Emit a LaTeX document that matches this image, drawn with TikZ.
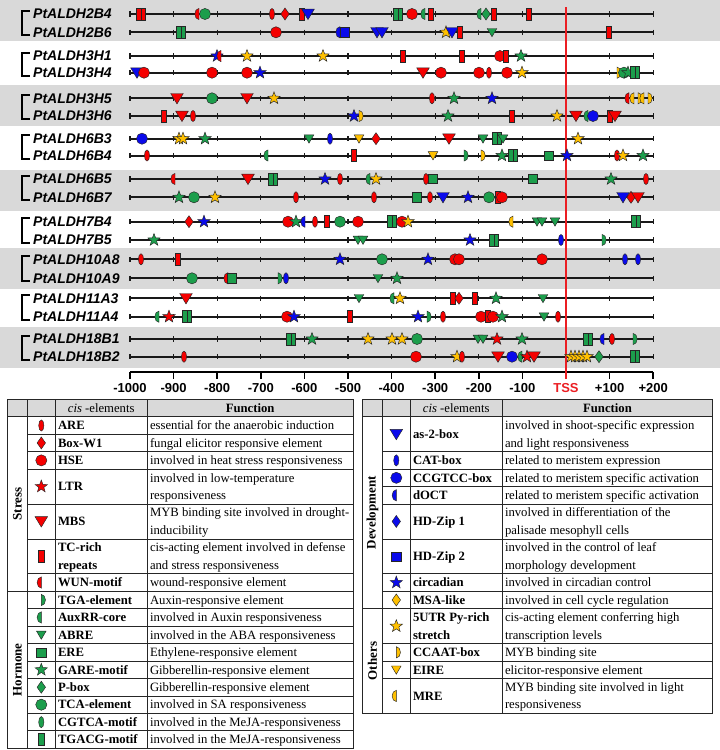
\documentclass[tikz,border=0pt]{standalone}
\usepackage{fontspec}
\setmainfont{Liberation Serif}
\setsansfont{Liberation Sans}
\definecolor{cR}{RGB}{245,0,0}
\definecolor{cG}{RGB}{28,158,76}
\definecolor{cB}{RGB}{10,10,235}
\definecolor{cY}{RGB}{255,192,0}
\definecolor{band}{RGB}{217,217,217}
\definecolor{tssred}{RGB}{235,30,35}
\newcommand\ry[1]{399.3+(#1)*17.45}
\newcommand\tic[3]{\pic at (#1,{\ry{#2}}) {#3};}
\newcommand\ttx[5]{\node[#1] (#2) at (#3,{\ry{#4}}) {#5};}
\tikzset{
 mk/.style={draw=black!85,line width=0.45pt},
 pics/ell/.style={code={\filldraw[mk,fill=#1] (0,0) ellipse[x radius=2.6pt,y radius=5.6pt];}},
 pics/dia/.style={code={\filldraw[mk,fill=#1] (0,-6) -- (4.2,0) -- (0,6) -- (-4.2,0) -- cycle;}},
 pics/cir/.style={code={\filldraw[mk,fill=#1] (0,0) circle[radius=5.6pt];}},
 pics/str/.style={code={\filldraw[mk,fill=#1] (90:6.5pt) -- (126:2.7pt) -- (162:6.5pt) -- (198:2.7pt) -- (234:6.5pt) -- (270:2.7pt) -- (306:6.5pt) -- (342:2.7pt) -- (18:6.5pt) -- (54:2.7pt) -- cycle;}},
 pics/tri/.style={code={\filldraw[mk,fill=#1] (-6.3,-4.8) -- (6.3,-4.8) -- (0,5.6) -- cycle;}},
 pics/stri/.style={code={\filldraw[mk,fill=#1] (-4.8,-3.8) -- (4.8,-3.8) -- (0,4.4) -- cycle;}},
 pics/rct/.style={code={\filldraw[mk,fill=#1] (-2.6,-6) rectangle (2.6,6);}},
 pics/sqr/.style={code={\filldraw[mk,fill=#1] (-4.6,-4.6) rectangle (4.6,4.6);}},
 pics/hl/.style={code={\filldraw[mk,fill=#1] (0,-5.6) arc[start angle=90,end angle=270,x radius=4.2pt,y radius=5.6pt] -- cycle;}},
 pics/hr/.style={code={\filldraw[mk,fill=#1] (0,5.6) arc[start angle=-90,end angle=90,x radius=4.2pt,y radius=5.6pt] -- cycle;}},
 pics/dbl/.style={code={\filldraw[mk,fill=#1] (-4.6,-6) rectangle (0,6); \filldraw[mk,fill=#1] (0,-6) rectangle (4.6,6);}},
 pics/are/.style={ell=cR}, pics/bw/.style={dia=cR}, pics/hse/.style={cir=cR},
 pics/ltr/.style={str=cR}, pics/mbs/.style={tri=cR}, pics/tc/.style={rct=cR},
 pics/wun/.style={hl=cR}, pics/tcd/.style={dbl=cR},
 pics/tga/.style={hr=cG}, pics/aux/.style={hl=cG}, pics/abre/.style={stri=cG},
 pics/ere/.style={sqr=cG}, pics/gare/.style={str=cG}, pics/pbox/.style={dia=cG},
 pics/tca/.style={cir=cG}, pics/cgt/.style={ell=cG}, pics/tgacg/.style={dbl=cG},
 pics/tgs/.style={rct=cG},
 pics/as2/.style={tri=cB}, pics/cat/.style={ell=cB}, pics/ccg/.style={cir=cB},
 pics/doct/.style={hl=cB}, pics/hd1/.style={dia=cB}, pics/hd2/.style={sqr=cB},
 pics/bst/.style={str=cB},
 pics/msa/.style={dia=cY}, pics/utr/.style={str=cY}, pics/ccaat/.style={hr=cY},
 pics/eire/.style={stri=cY}, pics/mre/.style={hl=cY},
 gline/.style={line width=2pt,black!90},
 gtick/.style={line width=1.3pt,black!90},
 brk/.style={line width=2pt,black},
 glab/.style={anchor=west,inner sep=0,font=\sffamily\bfseries\itshape\fontsize{14}{14}\selectfont},
 axl/.style={line width=2pt},
 axlab/.style={inner sep=0,font=\sffamily\bfseries\fontsize{13}{13}\selectfont},
 tss/.style={line width=2pt,tssred},
 tline/.style={line width=0.8pt,black!85},
 elt/.style={anchor=west,inner sep=0,text height=8.5pt,text depth=0pt,font=\bfseries\fontsize{12.7}{14}\selectfont},
 fnt/.style={anchor=west,inner sep=0,text height=8.5pt,text depth=0pt,font=\fontsize{12.7}{14}\selectfont},
 hdtx/.style={inner sep=0,text height=8.5pt,text depth=0pt,font=\fontsize{12.7}{14}\selectfont},
 catlab/.style={rotate=90,inner sep=0,font=\bfseries\fontsize{13}{13}\selectfont},
}
\begin{document}
\begin{tikzpicture}[x=1pt,y=-1pt]
\useasboundingbox (0,0) rectangle (720,750);
% grey bands
\foreach \a/\b in {0/41,85/126,170/210.7,248.3/289,326.7/368.3}
  \fill[band] (0,\a) rectangle (720,\b);
% gene lines and labels
\foreach \yy/\nn in {14/2B4,32.3/2B6,56/3H1,72.7/3H4,98.3/3H5,116/3H6,138.7/6B3,155.5/6B4,179/6B5,197.3/6B7,221.7/7B4,240/7B5,259.3/10A8,278.3/10A9,298.3/11A3,316.7/11A4,339/18B1,356.7/18B2}{
  \draw[gline] (130,\yy) -- (653,\yy);
  \foreach \k in {0,...,12}{\draw[gtick] ({130+43.6*\k},{\yy-2.6}) -- ({130+43.6*\k},{\yy+2.6});}
  \node[glab] (g\nn) at (33,\yy) {PtALDH\nn};
}
% brackets
\foreach \a/\b in {14/32.3,56/72.7,98.3/116,138.7/155.5,179/197.3,221.7/240,259.3/278.3,298.3/316.7,339/356.7}
  \draw[brk] (29.5,{\a-3.5}) -- (21.5,{\a-3.5}) -- (21.5,{\b+3}) -- (29.5,{\b+3});
% axis
\draw[axl] (130,372) -- (653,372);
\foreach \k in {0,...,12}{\draw[line width=1.5pt] ({130+43.6*\k},372) -- ({130+43.6*\k},378.5);}
\foreach \k/\lb in {0/-1000,1/-900,2/-800,3/-700,4/-600,5/-500,6/-400,7/-300,8/-200,9/-100,11/+100,12/+200}
  \node[axlab] (ax\k) at ({130+43.6*\k},387.7) {\lb};
\node[axlab,text=tssred] (axtss) at (566,387.7) {TSS};
% TSS line
\draw[tss] (566,7) -- (566,379);
% elements
\foreach \ty/\x in {tcd/141,wun/199,tca/205,are/272,bw/285,tc/302,as2/308,tgacg/398,hse/412,aux/425,tc/431,aux/481,pbox/486,tc/494,tc/529}{\pic at (\x,14) {\ty};}
\foreach \ty/\x in {tgacg/181,hse/276,doct/340,hd2/345,as2/377,as2/382,utr/446,as2/452,tc/460,abre/492,tc/609}{\pic at (\x,32.3) {\ty};}
\foreach \ty/\x in {bst/217,wun/221,utr/247,utr/323,tc/403,tc/462,hse/500,tc/506,gare/521}{\pic at (\x,56) {\ty};}
\foreach \ty/\x in {as2/137,hse/144,hse/212,hse/247,bst/260,mbs/423,hse/441,hse/479,are/489,hse/507,utr/522,ccaat/617,tca/624,gare/628,tgacg/635}{\pic at (\x,72.7) {\ty};}
\foreach \ty/\x in {mbs/177,tca/212,mbs/247,utr/274,are/432,gare/454,bst/492,wun/629,mre/634,ccaat/638,mre/644,ccaat/648}{\pic at (\x,98.3) {\ty};}
\foreach \ty/\x in {tc/164,mbs/182,are/193,bst/354,ccaat/359,gare/448,tc/512,utr/557,mbs/576,aux/588,ccg/593,tc/610,mbs/615}{\pic at (\x,116) {\ty};}
\foreach \ty/\x in {ccg/142,utr/179,utr/183,gare/205,abre/309,cat/330,eire/359,bw/376,mbs/449,abre/483,tgacg/497,abre/503,utr/578}{\pic at (\x,138.7) {\ty};}
\foreach \ty/\x in {are/147,aux/268,tc/354,eire/433,tga/464,ccaat/481,gare/502,tgacg/513,ere/549,bst/567,are/617,utr/623,gare/643}{\pic at (\x,155.5) {\ty};}
\foreach \ty/\x in {wun/175,mbs/248,tgacg/273,bst/325,are/340,aux/370,utr/376,are/426,ere/433,ere/533,gare/611,are/646}{\pic at (\x,179) {\ty};}
\foreach \ty/\x in {gare/179,tca/194,utr/215,are/296,are/374,ere/417,are/430,as2/443,bst/468,tca/489,tc/498,hse/502,as2/623,bw/631,mbs/638}{\pic at (\x,197.3) {\ty};}
\foreach \ty/\x in {bw/189,bst/204,hse/288,gare/296,doct/305,are/315,tc/327,tca/340,hse/358,tgacg/392,hse/402,utr/408,mre/513,abre/537,abre/542,abre/555,tgacg/636}{\pic at (\x,221.7) {\ty};}
\foreach \ty/\x in {gare/154,abre/358,abre/363,bst/470,tgacg/494,cat/561,tga/602}{\pic at (\x,240) {\ty};}
\foreach \ty/\x in {are/141,tc/178,bst/340,tca/382,bst/428,hse/455,hse/459,hse/542,cat/625,cat/638}{\pic at (\x,259.3) {\ty};}
\foreach \ty/\x in {tca/192,wun/228,ere/232,tga/278,cat/286,abre/378,gare/397}{\pic at (\x,278.3) {\ty};}
\foreach \ty/\x in {mbs/186,abre/359,aux/394,utr/400,tc/453,bw/459,tc/475,gare/496,abre/543}{\pic at (\x,298.3) {\ty};}
\foreach \ty/\x in {aux/159,ltr/169,tgacg/187,hse/287,bst/294,tc/350,bst/418,tga/427,are/443,hse/481,tc/488,hse/493,gare/502,abre/544,are/558}{\pic at (\x,316.7) {\ty};}
\foreach \ty/\x in {tgacg/291,gare/312,utr/368,utr/392,utr/402,tca/417,abre/478,abre/483,ltr/497,gare/522,tgacg/588,doct/604,are/612,tga/633}{\pic at (\x,339) {\ty};}
\foreach \ty/\x in {are/184,hse/416,utr/457,are/462,mbs/498,ccg/512,aux/522,ltr/527,mbs/534,utr/571,utr/575,utr/579,utr/583,utr/587,pbox/599,tgacg/635}{\pic at (\x,356.7) {\ty};}
% ---------- tables ----------
\fill[band] (7.3,{\ry{0}}) rectangle (353,{\ry{1}});
\fill[band] (362.3,{\ry{0}}) rectangle (712.7,{\ry{1}});
% left table grid
\draw[tline] (7.3,{\ry{0}}) rectangle (353,{\ry{20}});
\foreach \i in {1,11}{\draw[tline] (7.3,{\ry{\i}}) -- (353,{\ry{\i}});}
\foreach \i in {2,3,4,6,8,10,12,13,14,15,16,17,18,19}{\draw[tline] (27.7,{\ry{\i}}) -- (353,{\ry{\i}});}
\foreach \x in {27.7,55,147.3}{\draw[tline] (\x,{\ry{0}}) -- (\x,{\ry{20}});}
% right table grid
\draw[tline] (362.3,{\ry{0}}) rectangle (712.7,{\ry{18}});
\foreach \i in {1,12}{\draw[tline] (362.3,{\ry{\i}}) -- (712.7,{\ry{\i}});}
\foreach \i in {3,4,5,6,8,10,11,14,15,16}{\draw[tline] (382.7,{\ry{\i}}) -- (712.7,{\ry{\i}});}
\foreach \x in {382.7,410,502.3}{\draw[tline] (\x,{\ry{0}}) -- (\x,{\ry{18}});}
% headers
\ttx{hdtx}{lh1}{101.2}{0.5}{\textit{cis} -elements}
\ttx{hdtx,font=\bfseries\fontsize{12.7}{14}\selectfont}{lh2}{250.2}{0.5}{Function}
\ttx{hdtx}{rh1}{456.2}{0.5}{\textit{cis} -elements}
\ttx{hdtx,font=\bfseries\fontsize{12.7}{14}\selectfont}{rh2}{607.5}{0.5}{Function}
% categories
\node[catlab] (cStress) at (17.5,{\ry{6}}) {Stress};
\node[catlab] (cHormone) at (17.5,{\ry{15.5}}) {Hormone};
\node[catlab] (cDev) at (372.5,{\ry{6.5}}) {Development};
\node[catlab] (cOth) at (372.5,{\ry{15}}) {Others};
% left rows
\tic{41.3}{1.5}{are}\ttx{elt}{e1}{57.8}{1.5}{ARE}\ttx{fnt}{f1}{149.8}{1.5}{essential for the anaerobic induction}
\tic{41.3}{2.5}{bw}\ttx{elt}{e2}{57.8}{2.5}{Box-W1}\ttx{fnt}{f2}{149.8}{2.5}{fungal elicitor responsive element}
\tic{41.3}{3.5}{hse}\ttx{elt}{e3}{57.8}{3.5}{HSE}\ttx{fnt}{f3}{149.8}{3.5}{involved in heat stress responsiveness}
\tic{41.3}{5}{ltr}\ttx{elt}{e4}{57.8}{5}{LTR}\ttx{fnt}{f4}{149.8}{4.5}{involved in low-temperature}\ttx{fnt}{f4b}{149.8}{5.5}{responsiveness}
\tic{41.3}{7}{mbs}\ttx{elt}{e5}{57.8}{7}{MBS}\ttx{fnt}{f5}{149.8}{6.5}{MYB binding site involved in drought-}\ttx{fnt}{f5b}{149.8}{7.5}{inducibility}
\tic{41.3}{9}{tc}\ttx{elt}{e6}{57.8}{8.5}{TC-rich}\ttx{elt}{e6b}{57.8}{9.5}{repeats}\ttx{fnt}{f6}{149.8}{8.5}{cis-acting element involved in defense}\ttx{fnt}{f6b}{149.8}{9.5}{and stress responsiveness}
\tic{41.3}{10.5}{wun}\ttx{elt}{e7}{57.8}{10.5}{WUN-motif}\ttx{fnt}{f7}{149.8}{10.5}{wound-responsive element}
\tic{41.3}{11.5}{tga}\ttx{elt}{e8}{57.8}{11.5}{TGA-element}\ttx{fnt}{f8}{149.8}{11.5}{Auxin-responsive element}
\tic{41.3}{12.5}{aux}\ttx{elt}{e9}{57.8}{12.5}{AuxRR-core}\ttx{fnt}{f9}{149.8}{12.5}{involved in Auxin responsiveness}
\tic{41.3}{13.5}{abre}\ttx{elt}{e10}{57.8}{13.5}{ABRE}\ttx{fnt}{f10}{149.8}{13.5}{involved in the ABA responsiveness}
\tic{41.3}{14.5}{ere}\ttx{elt}{e11}{57.8}{14.5}{ERE}\ttx{fnt}{f11}{149.8}{14.5}{Ethylene-responsive element}
\tic{41.3}{15.5}{gare}\ttx{elt}{e12}{57.8}{15.5}{GARE-motif}\ttx{fnt}{f12}{149.8}{15.5}{Gibberellin-responsive element}
\tic{41.3}{16.5}{pbox}\ttx{elt}{e13}{57.8}{16.5}{P-box}\ttx{fnt}{f13}{149.8}{16.5}{Gibberellin-responsive element}
\tic{41.3}{17.5}{tca}\ttx{elt}{e14}{57.8}{17.5}{TCA-element}\ttx{fnt}{f14}{149.8}{17.5}{involved in SA responsiveness}
\tic{41.3}{18.5}{cgt}\ttx{elt}{e15}{57.8}{18.5}{CGTCA-motif}\ttx{fnt}{f15}{149.8}{18.5}{involved in the MeJA-responsiveness}
\tic{41.3}{19.5}{tgs}\ttx{elt}{e16}{57.8}{19.5}{TGACG-motif}\ttx{fnt}{f16}{149.8}{19.5}{involved in the MeJA-responsiveness}
% right rows
\tic{396.3}{2}{as2}\ttx{elt}{r1}{412.8}{2}{as-2-box}\ttx{fnt}{s1}{504.8}{1.5}{involved in shoot-specific expression}\ttx{fnt}{s1b}{504.8}{2.5}{and light responsiveness}
\tic{396.3}{3.5}{cat}\ttx{elt}{r2}{412.8}{3.5}{CAT-box}\ttx{fnt}{s2}{504.8}{3.5}{related to meristem expression}
\tic{396.3}{4.5}{ccg}\ttx{elt}{r3}{412.8}{4.5}{CCGTCC-box}\ttx{fnt}{s3}{504.8}{4.5}{related to meristem specific activation}
\tic{396.3}{5.5}{doct}\ttx{elt}{r4}{412.8}{5.5}{dOCT}\ttx{fnt}{s4}{504.8}{5.5}{related to meristem specific activation}
\tic{396.3}{7}{hd1}\ttx{elt}{r5}{412.8}{7}{HD-Zip 1}\ttx{fnt}{s5}{504.8}{6.5}{involved in differentiation of the}\ttx{fnt}{s5b}{504.8}{7.5}{palisade mesophyll cells}
\tic{396.3}{9}{hd2}\ttx{elt}{r6}{412.8}{9}{HD-Zip 2}\ttx{fnt}{s6}{504.8}{8.5}{involved in the control of leaf}\ttx{fnt}{s6b}{504.8}{9.5}{morphology development}
\tic{396.3}{10.5}{bst}\ttx{elt}{r7}{412.8}{10.5}{circadian}\ttx{fnt}{s7}{504.8}{10.5}{involved in circadian control}
\tic{396.3}{11.5}{msa}\ttx{elt}{r8}{412.8}{11.5}{MSA-like}\ttx{fnt}{s8}{504.8}{11.5}{involved in cell cycle regulation}
\tic{396.3}{13}{utr}\ttx{elt}{r9}{412.8}{12.5}{5UTR Py-rich}\ttx{elt}{r9b}{412.8}{13.5}{stretch}\ttx{fnt}{s9}{504.8}{12.5}{cis-acting element conferring high}\ttx{fnt}{s9b}{504.8}{13.5}{transcription levels}
\tic{396.3}{14.5}{ccaat}\ttx{elt}{r10}{412.8}{14.5}{CCAAT-box}\ttx{fnt}{s10}{504.8}{14.5}{MYB binding site}
\tic{396.3}{15.5}{eire}\ttx{elt}{r11}{412.8}{15.5}{EIRE}\ttx{fnt}{s11}{504.8}{15.5}{elicitor-responsive element}
\tic{396.3}{17}{mre}\ttx{elt}{r12}{412.8}{17}{MRE}\ttx{fnt}{s12}{504.8}{16.5}{MYB binding site involved in light}\ttx{fnt}{s12b}{504.8}{17.5}{responsiveness}
\end{tikzpicture}
\end{document}
